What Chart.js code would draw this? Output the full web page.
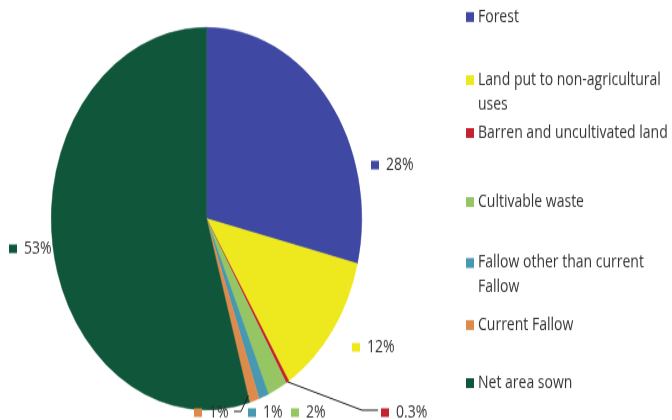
<!DOCTYPE html>
<html>
<head>
<meta charset="utf-8">
<script src="https://cdn.jsdelivr.net/npm/chart.js@4.4.0/dist/chart.umd.min.js"></script>
<style>
  html, body { margin: 0; background: #fff; width: 672px; height: 420px; overflow: hidden; }
  #frame { position: relative; width: 672px; height: 420px; }
  /* the original picture is stretched vertically, so draw round and stretch it */
  #wrap { position: absolute; left: 0; top: 0; width: 672px; height: 341px; transform: scaleY(1.2317); transform-origin: 0 0; }
</style>
</head>
<body>
<div id="frame"><div id="wrap"><canvas id="landChart" width="672" height="341"></canvas></div></div>
<script>
const categories = ['Forest', 'Land put to non-agricultural uses', 'Barren and uncultivated land',
  'Cultivable waste', 'Fallow other than current Fallow', 'Current Fallow', 'Net area sown'];
const legendLines = [['Forest'], ['Land put to non-agricultural', 'uses'], ['Barren and uncultivated land'],
  ['Cultivable waste'], ['Fallow other than current', 'Fallow'], ['Current Fallow'], ['Net area sown']];
const shares = [28, 12, 0.3, 2, 1, 1, 53];
const shareLabels = ['28%', '12%', '0.3%', '2%', '1%', '1%', '53%'];
const colours = ['#3F49A3', '#EEE81E', '#C42230', '#96C563', '#4798B0', '#DC8B4C', '#10563A'];

// where the data labels sit (key square centre), and the legend rows
const labelSpots = [[375, 134], [356, 282], [385, 335], [295, 335], [252, 335], [198, 335], [13, 202]];
const legendRows = [13.8, 65, 108, 164, 213.5, 263.9, 311];

const textColour = '#333';

const labelsPlugin = {
  id: 'pieLabels',
  afterDatasetsDraw(chart) {
    const ctx = chart.ctx;
    const arcs = chart.getDatasetMeta(0).data;
    ctx.save();
    ctx.textBaseline = 'middle';
    ctx.textAlign = 'left';

    // leader lines for the two crowded labels
    const edge = (arc) => {
      const a = (arc.startAngle + arc.endAngle) / 2;
      return [arc.x + Math.cos(a) * arc.outerRadius, arc.y + Math.sin(a) * arc.outerRadius];
    };
    ctx.strokeStyle = '#1a1a1a';
    ctx.lineWidth = 1;
    let p = edge(arcs[2]);
    ctx.beginPath();
    ctx.moveTo(p[0], p[1]);
    ctx.lineTo(362, 333);
    ctx.lineTo(378, 333);
    ctx.stroke();
    p = edge(arcs[5]);
    ctx.beginPath();
    ctx.moveTo(p[0] - 6, p[1] - 4);
    ctx.lineTo(241, 334);
    ctx.lineTo(234, 334);
    ctx.stroke();

    ctx.font = '14px "Open Sans"';
    shareLabels.forEach((txt, i) => {
      const [x, y] = labelSpots[i];
      ctx.fillStyle = colours[i];
      ctx.fillRect(x - 4, y - 3.5, 8, 7);
      ctx.fillStyle = textColour;
      ctx.fillText(txt, x + 11, y);
    });

    // legend
    ctx.font = '14px "Open Sans"';
    legendLines.forEach((lines, i) => {
      const y = legendRows[i];
      ctx.fillStyle = colours[i];
      ctx.fillRect(466, y - 4, 8, 8);
      ctx.fillStyle = textColour;
      lines.forEach((ln, j) => ctx.fillText(ln, 478, y + j * 20));
    });
    ctx.restore();
  }
};

new Chart(document.getElementById('landChart'), {
  type: 'pie',
  data: {
    labels: categories,
    datasets: [{
      data: shares,
      backgroundColor: colours,
      borderColor: colours,
      borderWidth: 0.5
    }]
  },
  options: {
    responsive: false,
    animation: false,
    layout: { padding: { left: 51, right: 310, top: 22, bottom: 8 } },
    plugins: {
      legend: { display: false },
      tooltip: { enabled: false }
    }
  },
  plugins: [labelsPlugin]
});
</script>
</body>
</html>
